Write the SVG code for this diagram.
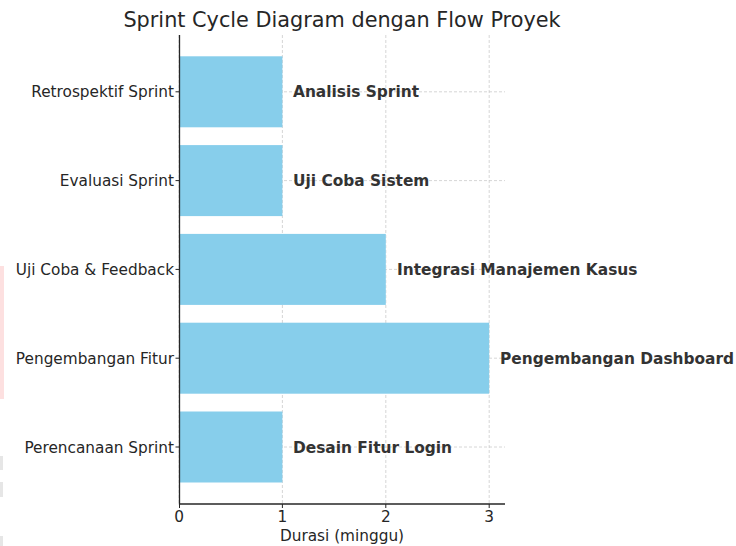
<svg xmlns="http://www.w3.org/2000/svg" width="736" height="546" viewBox="0 0 736 546">
  <style>
    text { font-family: "DejaVu Sans", "Liberation Sans", sans-serif; fill: #262626; }
    .title { font-size: 20.8px; text-anchor: middle; }
    .ytick { font-size: 15.3px; text-anchor: end; }
    .xtick { font-size: 15.3px; text-anchor: middle; }
    .xlabel { font-size: 15.3px; text-anchor: middle; }
    .val { font-size: 15.4px; font-weight: bold; fill: #333333; }
    .bar { fill: #87CEEB; }
    .grid { stroke: #cccccc; stroke-width: 0.8; stroke-dasharray: 3 2; fill: none; }
    .spine { stroke: #262626; stroke-width: 1.3; fill: none; }
    .tick { stroke: #262626; stroke-width: 1; }
  </style>
  <rect width="736" height="546" fill="#ffffff"/>

  <!-- faint marks along the left edge -->
  <rect x="0" y="266" width="4" height="133" fill="#fde0e0"/>
  <rect x="0" y="456" width="3" height="14" fill="#e6e6e6"/>
  <rect x="0" y="482" width="3" height="15" fill="#e6e6e6"/>
  <rect x="0" y="536" width="3" height="10" fill="#e6e6e6"/>

  <text class="title" x="342" y="27">Sprint Cycle Diagram dengan Flow Proyek</text>

  <!-- grid lines -->
  <g id="grid">
    <line class="grid" x1="179" y1="35" x2="179" y2="504"/>
    <line class="grid" x1="282.4" y1="35" x2="282.4" y2="504"/>
    <line class="grid" x1="385.8" y1="35" x2="385.8" y2="504"/>
    <line class="grid" x1="489.2" y1="35" x2="489.2" y2="504"/>
    <line class="grid" x1="179" y1="447" x2="505" y2="447"/>
    <line class="grid" x1="179" y1="358.2" x2="505" y2="358.2"/>
    <line class="grid" x1="179" y1="269.4" x2="505" y2="269.4"/>
    <line class="grid" x1="179" y1="180.6" x2="505" y2="180.6"/>
    <line class="grid" x1="179" y1="91.8" x2="505" y2="91.8"/>
  </g>

  <g id="bar-perencanaan">
    <rect class="bar" x="179" y="411.5" width="103.4" height="71"/>
    <text class="val" x="293" y="452.5">Desain Fitur Login</text>
  </g>
  <g id="bar-pengembangan">
    <rect class="bar" x="179" y="322.7" width="310.2" height="71"/>
    <text class="val" x="500" y="363.5">Pengembangan Dashboard</text>
  </g>
  <g id="bar-ujicoba">
    <rect class="bar" x="179" y="233.9" width="206.8" height="71"/>
    <text class="val" x="397" y="274.5">Integrasi Manajemen Kasus</text>
  </g>
  <g id="bar-evaluasi">
    <rect class="bar" x="179" y="145.1" width="103.4" height="71"/>
    <text class="val" x="293" y="186">Uji Coba Sistem</text>
  </g>
  <g id="bar-retrospektif">
    <rect class="bar" x="179" y="56.3" width="103.4" height="71"/>
    <text class="val" x="293" y="97">Analisis Sprint</text>
  </g>

  <!-- axes -->
  <g id="axes">
    <line class="spine" x1="179.5" y1="35" x2="179.5" y2="504.5"/>
    <line class="spine" x1="179" y1="504" x2="505" y2="504"/>
    <line class="tick" x1="175.5" y1="447" x2="179.5" y2="447"/>
    <line class="tick" x1="175.5" y1="358.2" x2="179.5" y2="358.2"/>
    <line class="tick" x1="175.5" y1="269.4" x2="179.5" y2="269.4"/>
    <line class="tick" x1="175.5" y1="180.6" x2="179.5" y2="180.6"/>
    <line class="tick" x1="175.5" y1="91.8" x2="179.5" y2="91.8"/>
    <line class="tick" x1="179.5" y1="504" x2="179.5" y2="508"/>
    <line class="tick" x1="282.4" y1="504" x2="282.4" y2="508"/>
    <line class="tick" x1="385.8" y1="504" x2="385.8" y2="508"/>
    <line class="tick" x1="489.2" y1="504" x2="489.2" y2="508"/>
  </g>

  <g id="labels">
    <text class="ytick" x="174" y="452.5">Perencanaan Sprint</text>
    <text class="ytick" x="174" y="363.5">Pengembangan Fitur</text>
    <text class="ytick" x="174" y="275">Uji Coba &amp; Feedback</text>
    <text class="ytick" x="174" y="186">Evaluasi Sprint</text>
    <text class="ytick" x="174" y="97">Retrospektif Sprint</text>
    <text class="xtick" x="179" y="522">0</text>
    <text class="xtick" x="282.4" y="522">1</text>
    <text class="xtick" x="385.8" y="522">2</text>
    <text class="xtick" x="489.2" y="522">3</text>
    <text class="xlabel" x="342" y="541">Durasi (minggu)</text>
  </g>
</svg>
